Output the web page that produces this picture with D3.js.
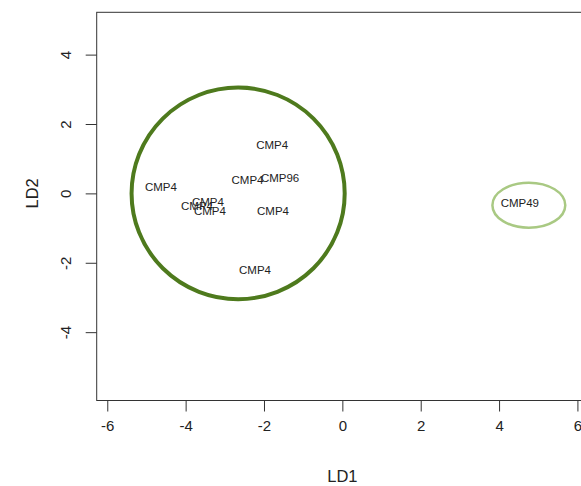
<!DOCTYPE html>
<html>
<head>
<meta charset="utf-8">
<script src="https://cdn.jsdelivr.net/npm/d3@7"></script>
<style>
  body { margin: 0; background: #fff; }
  svg { display: block; font-family: "Liberation Sans", Arial, sans-serif; }
</style>
</head>
<body>
<svg id="chart" width="581" height="486"></svg>
<script>
// ---- data ----
const labels = ["CMP4", "CMP4", "CMP4", "CMP96", "CMP4", "CMP4", "CMP4", "CMP4", "CMP4", "CMP49"];
const ld1 = [-1.79, -4.63, -2.42, -1.59, -3.43, -3.71, -3.38, -1.77, -2.23, 4.53];
const ld2 = [1.39, 0.18, 0.38, 0.43, -0.25, -0.37, -0.51, -0.51, -2.21, -0.28];

const groupNames = ["CMP4", "CMP49"];
const groupCx = [-2.66, 4.76];
const groupCy = [0.0, -0.34];
const groupRx = [2.72, 0.93];
const groupRy = [3.05, 0.65];
const groupColors = ["#4e7a1d", "#a9c983"];
const groupWidths = [4, 2.5];

const xTicks = [-6, -4, -2, 0, 2, 4, 6];
const yTicks = [-4, -2, 0, 2, 4];
const xDomain = [-6.27, 6.27];
const yDomain = [-5.97, 5.22];

// ---- layout ----
const svg = d3.select("#chart");
const mLeft = 96.7, mRight = 588, mTop = 12.3, mBottom = 400.5;

const x = d3.scaleLinear().domain(xDomain).range([mLeft, mRight]);
const y = d3.scaleLinear().domain(yDomain).range([mBottom, mTop]);

// box
svg.append("rect")
  .attr("x", mLeft).attr("y", mTop)
  .attr("width", mRight - mLeft).attr("height", mBottom - mTop)
  .attr("fill", "none").attr("stroke", "#333").attr("stroke-width", 1);

// ellipses
groupNames.forEach((g, i) => {
  svg.append("ellipse")
    .attr("cx", x(groupCx[i])).attr("cy", y(groupCy[i]))
    .attr("rx", x(groupRx[i]) - x(0))
    .attr("ry", y(0) - y(groupRy[i]))
    .attr("fill", "none")
    .attr("stroke", groupColors[i])
    .attr("stroke-width", groupWidths[i]);
});

// point labels
svg.append("g").selectAll("text")
  .data(labels.map((l, i) => ({ l, x: ld1[i], y: ld2[i] })))
  .join("text")
  .attr("x", d => x(d.x)).attr("y", d => y(d.y))
  .attr("text-anchor", "middle")
  .attr("dominant-baseline", "central")
  .attr("font-size", 11.5)
  .attr("fill", "#222")
  .text(d => d.l);

// x axis
const xAxis = d3.axisBottom(x).tickValues(xTicks).tickSize(11).tickPadding(9)
  .tickFormat(d => d < 0 ? "-" + Math.abs(d) : d);
const gx = svg.append("g").attr("transform", `translate(0,${mBottom})`).call(xAxis);
gx.select(".domain").remove();
gx.selectAll("line").attr("stroke", "#333");
gx.selectAll("text").attr("font-size", 15).attr("fill", "#222")
  .attr("font-family", "Liberation Sans, Arial, sans-serif");

// y axis
const yAxis = d3.axisLeft(y).tickValues(yTicks).tickSize(11).tickPadding(0)
  .tickFormat(d => d < 0 ? "-" + Math.abs(d) : d);
const gy = svg.append("g").attr("transform", `translate(${mLeft},0)`).call(yAxis);
gy.select(".domain").remove();
gy.selectAll("line").attr("stroke", "#333");
gy.selectAll("text")
  .attr("font-size", 15).attr("fill", "#222")
  .attr("font-family", "Liberation Sans, Arial, sans-serif")
  .attr("x", null).attr("dy", null)
  .attr("text-anchor", "middle")
  .attr("dominant-baseline", "central")
  .attr("transform", "translate(-31,0) rotate(-90)");

// axis titles
svg.append("text")
  .attr("x", x(0)).attr("y", 476)
  .attr("text-anchor", "middle").attr("dominant-baseline", "central")
  .attr("font-size", 16.5).attr("fill", "#222")
  .text("LD1");

svg.append("text")
  .attr("transform", `translate(32,${y(0)}) rotate(-90)`)
  .attr("text-anchor", "middle").attr("dominant-baseline", "central")
  .attr("font-size", 16.5).attr("fill", "#222")
  .text("LD2");
</script>
</body>
</html>
